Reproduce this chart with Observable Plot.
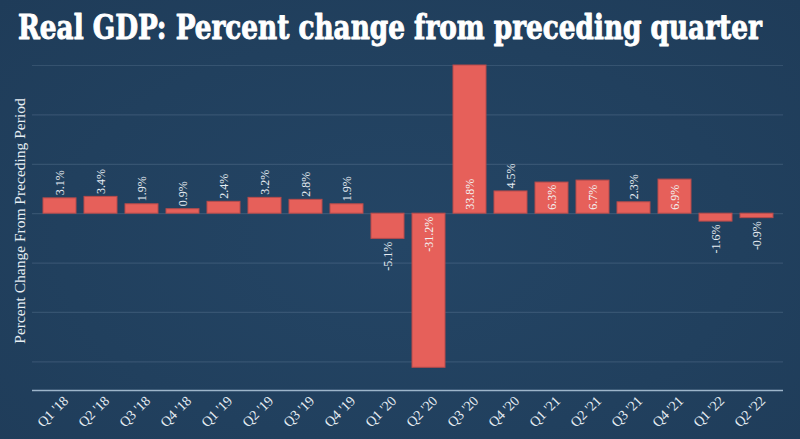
<!DOCTYPE html>
<html>
<head>
<meta charset="utf-8">
<script src="https://cdn.jsdelivr.net/npm/d3@7"></script>
<script src="https://cdn.jsdelivr.net/npm/@observablehq/plot@0.6"></script>
<style>
  html, body { margin: 0; padding: 0; background: #21405e; }
  #wrap { width: 800px; height: 439px; background: radial-gradient(ellipse at 50% 55%, #244565 0%, #21405e 60%, #1f3c59 100%); overflow: hidden; }
  #title { display: block; }
  #chart svg { display: block; }
</style>
</head>
<body>
<div id="wrap">
  <svg id="title" width="800" height="52">
    <text id="titleText" x="0" y="0"
      font-family="'DejaVu Serif Condensed', 'DejaVu Serif', serif" font-weight="bold" font-size="33"
      fill="#ffffff" stroke="#ffffff" stroke-width="0.9" stroke-linejoin="round">Real GDP: Percent change from preceding quarter</text>
  </svg>
  <div id="chart"></div>
</div>
<script>
const quarters = ["Q1 '18","Q2 '18","Q3 '18","Q4 '18","Q1 '19","Q2 '19","Q3 '19","Q4 '19","Q1 '20","Q2 '20","Q3 '20","Q4 '20","Q1 '21","Q2 '21","Q3 '21","Q4 '21","Q1 '22","Q2 '22"];
const values = [3.1, 3.4, 1.9, 0.9, 2.4, 3.2, 2.8, 1.9, -5.1, -31.2, 33.8, 4.5, 6.3, 6.7, 2.3, 6.9, -1.6, -0.9];
const labels = ["3.1%","3.4%","1.9%","0.9%","2.4%","3.2%","2.8%","1.9%","-5.1%","-31.2%","33.8%","4.5%","6.3%","6.7%","2.3%","6.9%","-1.6%","-0.9%"];
const gridTicks = [30, 20, 10, 0, -10, -20, -30];
const yDomain = [-35.8, 30];
const yTitle = "Percent Change From Preceding Period";

// fit the title: keep glyph height of a 33px font, width 744px
(function fitTitle() {
  const t = document.getElementById("titleText");
  const baseSize = 33, targetW = 744;
  const w = t.getComputedTextLength();
  const sx = targetW / w;
  t.setAttribute("font-size", baseSize * sx);
  t.setAttribute("transform", `translate(18,39) scale(1,${1 / sx})`);
  t.setAttribute("stroke-width", 0.9 * sx);
})();

const data = quarters.map((q, i) => ({q, v: values[i], label: labels[i], inside: Math.abs(values[i]) > 6}));

const font = "'Liberation Serif', 'DejaVu Serif', serif";
const txt = "#e6edf3";

const chart = Plot.plot({
  width: 800,
  height: 387,
  marginLeft: 32,
  marginRight: 17,
  marginTop: 13,
  marginBottom: 49,
  style: {background: "transparent", fontFamily: font, color: txt},
  x: {domain: quarters, padding: 0.2, axis: null},
  y: {domain: yDomain, clamp: true, axis: null},
  marks: [
    Plot.ruleY(gridTicks, {stroke: "#8aa6c0", strokeOpacity: 0.2, strokeWidth: 1.2}),
    Plot.ruleY([yDomain[0]], {stroke: "#9db5ca", strokeWidth: 1.5}),
    Plot.barY(data, {x: "q", y: "v", fill: "#e6605a", stroke: "#b84b4b", strokeWidth: 1}),
    Plot.text(data.filter(d => d.v > 0 && !d.inside), {x: "q", y: "v", text: "label", rotate: -90, textAnchor: "start", dy: -3, fill: txt, fontSize: 12, fontFamily: font}),
    Plot.text(data.filter(d => d.v > 0 && d.inside), {x: "q", y: () => 0, text: "label", rotate: -90, textAnchor: "start", dy: -4, fill: "#f3f3f3", fontSize: 12, fontFamily: font}),
    Plot.text(data.filter(d => d.v < 0 && !d.inside), {x: "q", y: "v", text: "label", rotate: -90, textAnchor: "end", dy: 3, fill: txt, fontSize: 12, fontFamily: font}),
    Plot.text(data.filter(d => d.v < 0 && d.inside), {x: "q", y: () => 0, text: "label", rotate: -90, textAnchor: "end", dy: 3, fill: "#f3f3f3", fontSize: 12, fontFamily: font}),
    Plot.text(data, {x: "q", y: () => yDomain[0], text: "q", rotate: -45, textAnchor: "end", lineAnchor: "middle", dx: 6, dy: 8, fill: txt, fontSize: 14, fontFamily: font}),
    Plot.text([yTitle], {frameAnchor: "left", rotate: -90, textAnchor: "middle", dx: -12, dy: -7, fill: txt, fontSize: 15.5, fontFamily: font})
  ]
});
document.getElementById("chart").appendChild(chart);
</script>
</body>
</html>
